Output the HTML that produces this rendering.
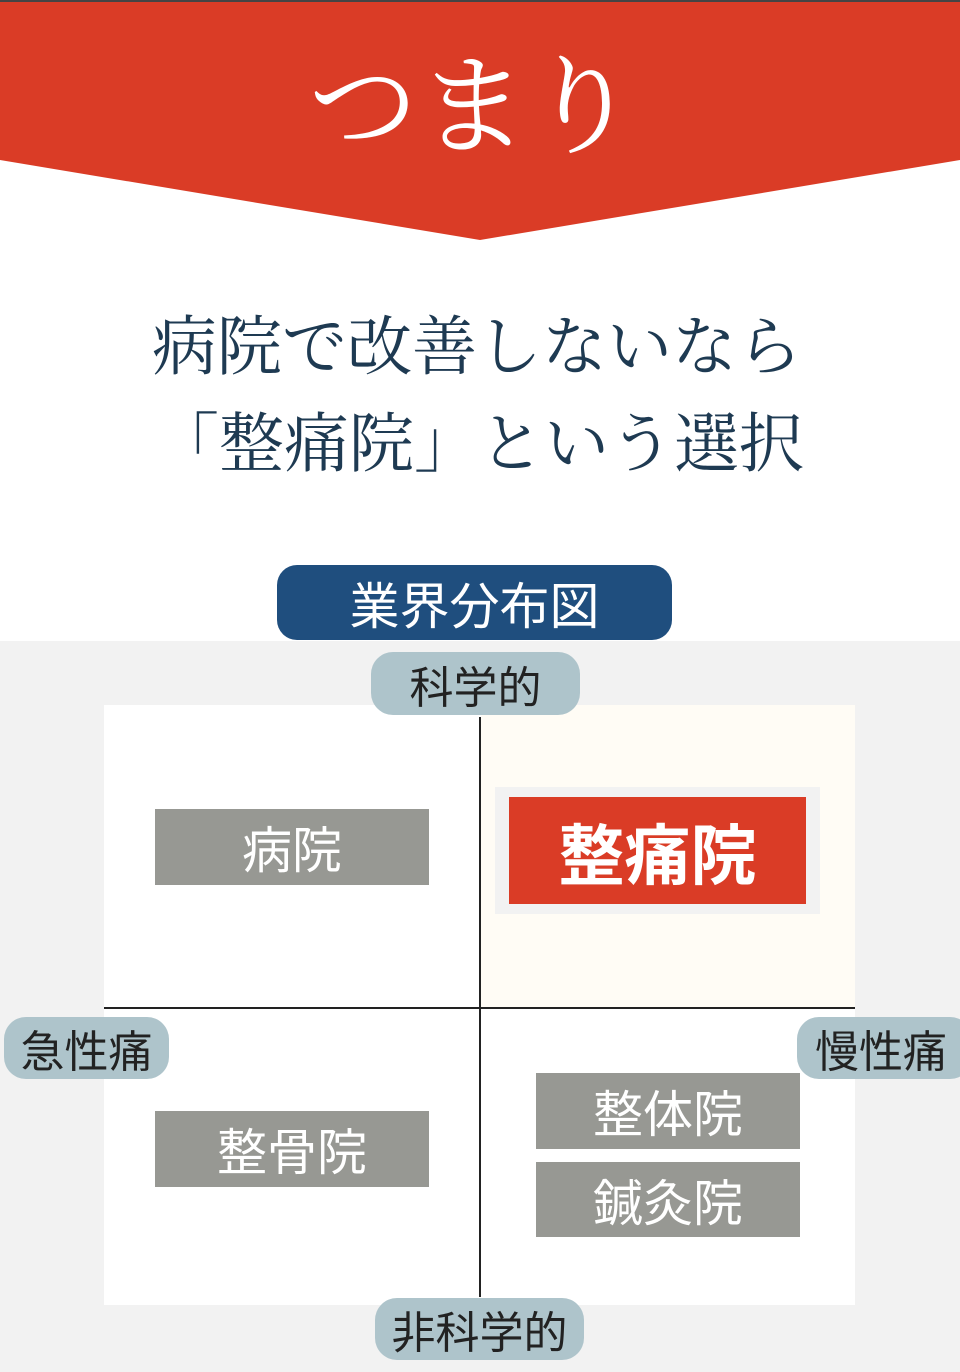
<!DOCTYPE html>
<html><head><meta charset="utf-8"><style>
*{margin:0;padding:0;box-sizing:border-box}
body{width:960px;height:1372px;position:relative;background:#fff;overflow:hidden;font-family:"Liberation Sans","Noto Sans CJK JP",sans-serif}
.a{position:absolute}
.c{display:flex;align-items:center;justify-content:center}
.pill{background:#aec4cb;border-radius:22px;color:#222;font-size:44px}
.box{background:#979893;color:#fff;font-size:50px}
</style></head><body>
<div class="a" style="left:0;top:0;width:960px;height:3px;background:#444"></div>
<svg class="a" style="left:0;top:2px" width="960" height="240"><polygon points="0,0 960,0 960,158 480,238 0,158" fill="#da3c26"/></svg>
<div class="a c" style="left:0;top:28px;width:946px;height:140px;color:#fff;font-family:'Noto Serif CJK JP','Noto Serif CJK SC',serif;font-size:110px">つまり</div>
<div class="a" style="left:0;top:293px;width:960px;text-align:center;color:#1e3a52;font-family:'Noto Serif CJK JP','Noto Serif CJK SC',serif;font-size:65px;line-height:97px">
<div style="padding-right:6px">病院で改善しないなら</div>
<div style="padding-right:2px">「整痛院」という選択</div></div>
<div class="a" style="left:0;top:641px;width:960px;height:731px;background:#f2f2f2"></div>
<div class="a" style="left:104px;top:705px;width:751px;height:600px;background:#fff"></div>
<div class="a" style="left:481px;top:705px;width:374px;height:302px;background:#fffcf5"></div>
<div class="a" style="left:479px;top:717px;width:2px;height:580px;background:#222"></div>
<div class="a" style="left:104px;top:1007px;width:751px;height:2px;background:#222"></div>
<div class="a c" style="left:277px;top:565px;width:395px;height:75px;background:#1f4e7e;border-radius:20px;color:#fff;font-size:50px">業界分布図</div>
<div class="a c pill" style="left:371px;top:652px;width:209px;height:63px">科学的</div>
<div class="a c pill" style="left:4px;top:1017px;width:165px;height:62px">急性痛</div>
<div class="a c pill" style="left:797px;top:1017px;width:175px;height:62px;justify-content:flex-start;padding-left:18px">慢性痛</div>
<div class="a c pill" style="left:375px;top:1298px;width:209px;height:62px">非科学的</div>
<div class="a c box" style="left:155px;top:809px;width:274px;height:76px">病院</div>
<div class="a c box" style="left:155px;top:1111px;width:274px;height:76px">整骨院</div>
<div class="a c box" style="left:536px;top:1073px;width:264px;height:76px">整体院</div>
<div class="a c box" style="left:536px;top:1162px;width:264px;height:75px">鍼灸院</div>
<div class="a" style="left:495px;top:787px;width:325px;height:127px;background:#f2f2f2"></div>
<div class="a c" style="left:509px;top:797px;width:297px;height:107px;background:#da3c26;color:#fff;font-size:66px;font-weight:bold">整痛院</div>
</body></html>
